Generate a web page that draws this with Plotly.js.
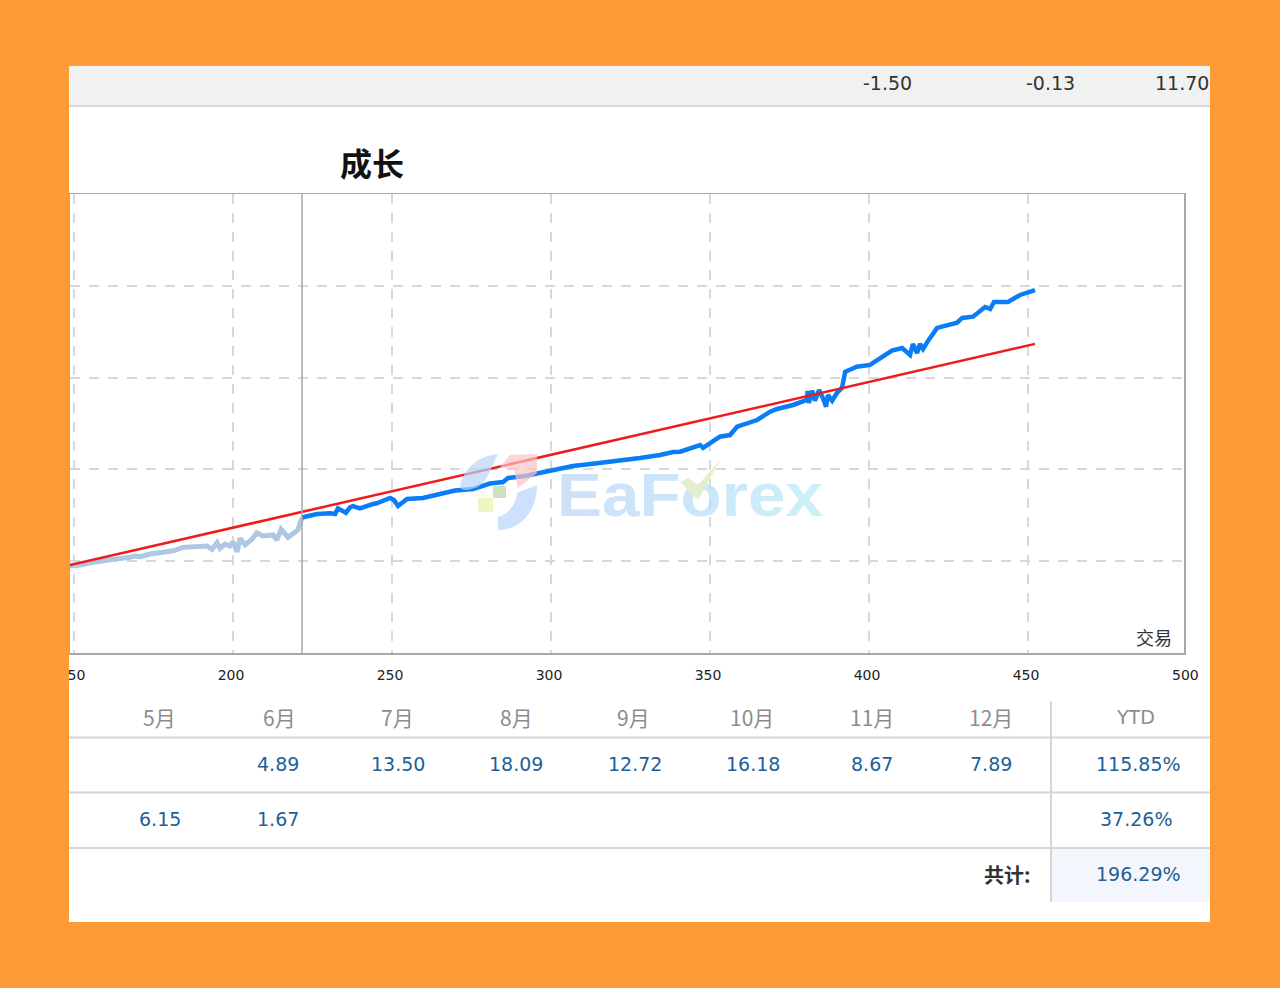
<!DOCTYPE html>
<html>
<head>
<meta charset="utf-8">
<script src="https://cdn.plot.ly/plotly-3.0.1.min.js"></script>
<style>
html,body{margin:0;padding:0;background:#FF9B37;width:1280px;height:988px;overflow:hidden}
#chart{position:absolute;left:0;top:0;width:1280px;height:988px}
#over{position:absolute;left:0;top:0;pointer-events:none}
</style>
</head>
<body>
<div id="chart"></div>
<svg id="over" width="1280" height="988" xmlns="http://www.w3.org/2000/svg">
  <defs>
    <linearGradient id="wm" x1="558" y1="0" x2="822" y2="0" gradientUnits="userSpaceOnUse">
      <stop offset="0" stop-color="#b9d6f7"/><stop offset="0.5" stop-color="#b5dcf8"/><stop offset="1" stop-color="#b8ecf4"/>
    </linearGradient>
  </defs>
  <g opacity="0.7">
    <path d="M498 454 C478 456 464 468 460 486 C460 492 470 490 478 487 C488 480 492 466 498 454Z" fill="#b5d8f8"/>
    <path d="M500 467 L510 455 L537 454 L537 473 L518 488 L514 470Z" fill="#fbc4c4"/>
    <path d="M498 530 C520 530 537 512 537 485 L517 493 C516 505 508 514 498 517Z" fill="#b8d4fb"/>
    <rect x="493" y="486" width="13" height="12" fill="#b4d8ac"/>
    <rect x="478" y="498" width="15" height="14" fill="#e8f3a8"/>
    <text x="557" y="516" font-family="Liberation Sans, sans-serif" font-weight="700" font-size="61" textLength="266" lengthAdjust="spacingAndGlyphs" fill="url(#wm)">EaForex</text>
    <path d="M680 482 L698 500 L720 460 L698 485 L688 478Z" fill="#d8e9b4"/>
  </g>
  <rect x="0" y="0" width="69" height="988" fill="#FF9B37"/>
</svg>
<script>
// Paler stretch of the growth curve (before the divider)
const historyTrades = [148.7,151.9,155,158.2,162.3,167.6,169.2,170.8,173.9,178,181.1,184.3,187.4,191.8,193.4,195,195.9,197.5,199,200,201.3,202.2,203.8,206,207.5,209.4,212.6,213.8,215.1,217.3,220.4,221.4,221.7];
const historyGrowth = [94.4,95.5,98,99.1,101.7,103.9,105.3,104.6,107.5,109.4,111.1,114.8,115.5,116.3,112.7,119.9,113.8,118.4,116.3,121,110,124.7,117.4,123.6,130.8,127.2,128.3,122.8,134.5,125.8,133.7,146.5,147.4];
// Saturated stretch of the growth curve
const liveTrades = [221.7,222.6,226.4,230.5,232.1,233,235.5,236.8,237.7,239.9,240.9,242.5,244,245.2,247.3,249.4,250.6,251.9,254.7,259.7,265.1,269.8,275.5,280.8,284.9,286.5,291.8,296.5,301.3,306.9,313.8,320.8,328,334.3,338.4,340.6,346.9,347.8,353.1,356.3,358.5,364.8,368.9,371.1,376.1,380.5,380.7,381.1,382.1,383,384.3,385.5,386.5,387.1,388.4,389.9,391.5,392.5,396.2,400.3,404.4,407.2,410.4,412.9,413.8,415.1,416,417,418.6,421.4,427.7,429.3,432.7,436.5,438.1,439.3,443.7,447.5,452.2];
const liveGrowth = [147.4,148.3,151.2,152,151.2,157.4,152.6,158.5,159.9,157.4,158.8,161,162.1,162.9,165.7,168.7,166.5,159.9,167.6,168.7,173,176.8,178.5,184.5,186.1,190.5,192.7,196,198.7,203.6,206.3,209,212.3,215.6,218.9,219.2,226.5,223.3,235.6,237.4,246.5,253.8,262.9,265.8,270.2,275.7,285.5,272.4,285.8,274.9,286.6,277.8,268.3,281.1,274.9,283.3,288.8,306.5,312,313.9,323.7,329.5,332.4,324.8,336.8,327,336.8,331.3,340.4,354.3,360,365.2,366.6,377.2,375,382.6,382.6,390.3,395.5];
// Trend line
const trendTrades = [148.7,452.2];
const trendGrowth = [95.5,336.9];
// Axes
const xTicks = [150,200,250,300,350,400,450];
const yTicks = [100,200,300,400];
// Tables
const months = ['5月','6月','7月','8月','9月','10月','11月','12月'];
const row1 = ['', '4.89','13.50','18.09','12.72','16.18','8.67','7.89'];
const row2 = ['6.15','1.67','','','','','',''];
const ytdHeader = 'YTD';
const ytdRow1 = '115.85%';
const ytdRow2 = '37.26%';
const totalLabel = '共计:';
const totalValue = '196.29%';
const topBand = ['-1.50','-0.13','11.70'];

const L=70,R=1184,T=194,B=653;
const px=x=>(x-L)/(R-L), py=y=>(B-y)/(B-T);
const rect=(x0,y0,x1,y1,fill)=>({type:'rect',xref:'paper',yref:'paper',x0:px(x0),x1:px(x1),y0:py(y0),y1:py(y1),fillcolor:fill,line:{width:0},layer:'below'});
const ln=(x0,y0,x1,y1)=>({type:'line',xref:'paper',yref:'paper',x0:px(x0),x1:px(x1),y0:py(y0),y1:py(y1),line:{color:'#d4d6d8',width:2},layer:'below'});
const FONT='"DejaVu Sans","Noto Sans CJK SC",sans-serif';
const CJK='"Noto Sans CJK SC",sans-serif';
const txt=(x,y,t,size,color,extra={})=>Object.assign({xref:'paper',yref:'paper',x:px(x),y:py(y),text:t,showarrow:false,xanchor:'center',yanchor:'middle',font:{family:FONT,size:size,color:color}},extra);

const monthCols=[159,279,397,516,634,752,872,991];
const row1Cols=[160,278,398,516,635,753,872,991];
const HEAD='#8c8c8c', VAL='#1d5f97';
const annotations=[];
months.forEach((m,i)=>annotations.push(txt(monthCols[i],717,m,21,HEAD,{font:{family:CJK,size:21,color:HEAD}})));
row1.forEach((v,i)=>{if(v)annotations.push(txt(row1Cols[i],764,v,19,VAL));});
row2.forEach((v,i)=>{if(v)annotations.push(txt(row1Cols[i],819,v,19,VAL));});
annotations.push(txt(1135,717,ytdHeader,19,HEAD));
annotations.push(txt(1138,764,ytdRow1,19,VAL));
annotations.push(txt(1136,819,ytdRow2,19,VAL));
annotations.push(txt(1138,874,totalValue,19,VAL));
annotations.push(txt(1007,874,totalLabel,20,'#333',{font:{family:CJK,size:20,color:'#333',weight:700}}));
[887,1050,1182].forEach((x,i)=>annotations.push(txt(x,83,topBand[i],19,'#333')));
annotations.push(txt(1154,637,'交易',18,'#333',{font:{family:CJK,size:18,color:'#333'}}));
annotations.push(txt(1185,675,'500',14,'#222'));

const shapes=[
  rect(69,66,1210,922,'#ffffff'),
  rect(69,66,1210,106,'#f0f1f1'),
  rect(1052,849,1210,902,'#f3f6fc'),
  ln(69,106,1210,106),
  ln(69,737.5,1210,737.5),ln(69,792.5,1210,792.5),ln(69,848,1210,848),
  ln(1051,701,1051,902),
  {type:'line',xref:'x',yref:'paper',x0:221.7,x1:221.7,y0:0,y1:1,line:{color:'#a8a8a8',width:1.5},layer:'above'}
];

const data=[
  {x:historyTrades,y:historyGrowth,mode:'lines',line:{color:'#aec7e2',width:5,shape:'linear'},hoverinfo:'skip',name:'历史'},
  {x:liveTrades,y:liveGrowth,mode:'lines',line:{color:'#0a7cf5',width:4.5,shape:'linear'},hoverinfo:'skip',name:'成长'},
  {x:trendTrades,y:trendGrowth,mode:'lines',line:{color:'#f01a1a',width:2.5},hoverinfo:'skip',name:'趋势'}
];
const layout={
  width:1280,height:988,autosize:false,showlegend:false,
  paper_bgcolor:'#FF9B37',plot_bgcolor:'rgba(0,0,0,0)',
  margin:{l:L,r:1280-R,t:T,b:988-B,pad:0},
  title:{text:'成长',xref:'container',yref:'container',x:340/1280,xanchor:'left',y:1-165/988,yanchor:'middle',font:{family:CJK,size:32,color:'#111',weight:700}},
  xaxis:{range:[148.74,499.05],tickmode:'array',tickvals:xTicks,ticktext:xTicks.map(String),ticks:'',showgrid:true,gridcolor:'#d8d8d8',gridwidth:2,griddash:'10px,9px',zeroline:false,showline:true,mirror:true,linecolor:'#a8a8a8',linewidth:1.5,ticklabelshift:-2,ticklabelstandoff:9,tickfont:{family:FONT,size:14,color:'#222'}},
  yaxis:{range:[-0.5,500.5],tickmode:'array',tickvals:yTicks,showticklabels:false,ticks:'',showgrid:true,gridcolor:'#d8d8d8',gridwidth:2,griddash:'10px,9px',zeroline:false,showline:true,mirror:true,linecolor:'#a8a8a8',linewidth:1.5},
  shapes,annotations
};
Plotly.newPlot('chart',data,layout,{displayModeBar:false,staticPlot:true});
</script>
</body>
</html>
